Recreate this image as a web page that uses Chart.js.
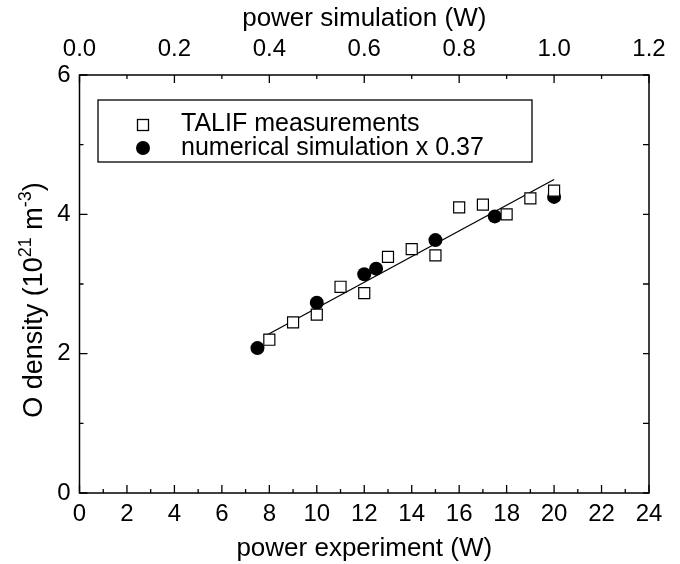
<!DOCTYPE html>
<html>
<head>
<meta charset="utf-8">
<script src="https://cdn.jsdelivr.net/npm/chart.js@4.4.1/dist/chart.umd.min.js"></script>
<style>
  html, body { margin: 0; padding: 0; background: #fff; }
  #cntr { width: 680px; height: 564px; }
</style>
</head>
<body>
<div id="cntr"><canvas id="grafica" width="680" height="564"></canvas></div>
<script>
// Datos
const potenciaTalif = [8, 9, 10, 11, 12, 13, 14, 15, 16, 17, 18, 19, 20];
const densidadTalif = [2.20, 2.45, 2.56, 2.96, 2.87, 3.39, 3.50, 3.41, 4.10, 4.14, 4.00, 4.23, 4.34];
const potenciaSim = [7.5, 10, 12, 12.5, 15, 17.5, 20];
const densidadSim = [2.08, 2.73, 3.14, 3.22, 3.63, 3.97, 4.25];
const ajusteX = [7.8, 20];
const ajusteY = [2.25, 4.50];

const fuente = '"Liberation Sans", Arial, Helvetica, sans-serif';
Chart.defaults.font.family = fuente;
Chart.defaults.color = '#000';

const puntos = (xs, ys) => xs.map((x, i) => ({ x: x, y: ys[i] }));

// Marco y marcas hacia dentro
const marco = {
  id: 'marco',
  beforeDatasetsDraw(chart) {
    const { ctx, chartArea: a, scales } = chart;
    ctx.save();
    ctx.strokeStyle = '#000';
    ctx.lineWidth = 1.5;
    ctx.strokeRect(a.left, a.top, a.right - a.left, a.bottom - a.top);
    ctx.lineWidth = 1.3;
    ctx.beginPath();
    for (let v = 0; v <= 24; v++) {
      const px = scales.x.getPixelForValue(v);
      const l = v % 2 === 0 ? 8 : 4;
      ctx.moveTo(px, a.bottom); ctx.lineTo(px, a.bottom - l);
    }
    for (let i = 0; i <= 12; i++) {
      const px = scales.x2.getPixelForValue(i / 10);
      const l = i % 2 === 0 ? 8 : 4;
      ctx.moveTo(px, a.top); ctx.lineTo(px, a.top + l);
    }
    for (let v = 0; v <= 6; v++) {
      const py = scales.y.getPixelForValue(v);
      const l = v % 2 === 0 ? 8 : 4;
      ctx.moveTo(a.left, py); ctx.lineTo(a.left + l, py);
      ctx.moveTo(a.right, py); ctx.lineTo(a.right - 6, py);
    }
    ctx.stroke();
    ctx.restore();
  }
};

// Titulo del eje y con superindices
const tituloY = {
  id: 'tituloY',
  afterDraw(chart) {
    const { ctx } = chart;
    const partes = [
      ['O density (10', 27, 0], ['21', 18, -11], [' m', 27, 0], ['-3', 18, -11], [')', 27, 0]
    ];
    ctx.save();
    ctx.translate(0, 300);
    ctx.rotate(-Math.PI / 2);
    ctx.fillStyle = '#000';
    ctx.textBaseline = 'alphabetic';
    let total = 0;
    partes.forEach(p => { ctx.font = p[1] + 'px ' + fuente; total += ctx.measureText(p[0]).width; });
    let x = -total / 2;
    partes.forEach(p => {
      ctx.font = p[1] + 'px ' + fuente;
      ctx.fillText(p[0], x, 42 + p[2]);
      x += ctx.measureText(p[0]).width;
    });
    ctx.restore();
  }
};

// Leyenda dentro del area
const leyenda = {
  id: 'leyenda',
  afterDraw(chart) {
    const { ctx } = chart;
    ctx.save();
    ctx.strokeStyle = '#000';
    ctx.lineWidth = 1.3;
    ctx.strokeRect(98, 100, 434, 62);
    ctx.fillStyle = '#fff';
    ctx.fillRect(137.5, 119.5, 11, 11);
    ctx.strokeRect(137.5, 119.5, 11, 11);
    ctx.fillStyle = '#000';
    ctx.beginPath();
    ctx.arc(143, 148, 7, 0, Math.PI * 2);
    ctx.fill();
    ctx.font = '25px ' + fuente;
    ctx.textBaseline = 'alphabetic';
    ctx.fillText('TALIF measurements', 181, 131);
    ctx.fillText('numerical simulation x 0.37', 181, 155);
    ctx.restore();
  }
};

new Chart(document.getElementById('grafica'), {
  type: 'scatter',
  data: {
    datasets: [
      {
        label: 'TALIF measurements',
        data: puntos(potenciaTalif, densidadTalif),
        pointStyle: 'rect',
        pointRadius: 7.8,
        pointBackgroundColor: '#fff',
        pointBorderColor: '#000',
        pointBorderWidth: 1.2,
        order: 1
      },
      {
        label: 'numerical simulation x 0.37',
        data: puntos(potenciaSim, densidadSim),
        pointStyle: 'circle',
        pointRadius: 7,
        pointBackgroundColor: '#000',
        pointBorderColor: '#000',
        pointBorderWidth: 0,
        order: 2
      },
      {
        label: 'ajuste',
        data: puntos(ajusteX, ajusteY),
        showLine: true,
        borderColor: '#000',
        borderWidth: 1.3,
        pointRadius: 0,
        order: 3
      }
    ]
  },
  options: {
    responsive: false,
    animation: false,
    devicePixelRatio: 1,
    layout: { padding: { left: 0, right: 31, top: 0, bottom: 0 } },
    plugins: {
      legend: { display: false },
      tooltip: { enabled: false }
    },
    scales: {
      x: {
        type: 'linear', position: 'bottom', min: 0, max: 24,
        ticks: { stepSize: 2, font: { size: 24 }, color: '#000', padding: 7, maxRotation: 0, autoSkip: false },
        grid: { display: false, drawTicks: false },
        border: { display: false },
        title: { display: true, text: 'power experiment (W)', font: { size: 26 }, color: '#000', padding: { top: 0, bottom: 0 } },
        afterFit: s => { s.height = 71; }
      },
      x2: {
        type: 'linear', position: 'top', min: 0, max: 1.2,
        ticks: { stepSize: 0.2, font: { size: 24 }, color: '#000', padding: 11, maxRotation: 0, autoSkip: false,
                 callback: v => v.toFixed(1) },
        grid: { display: false, drawTicks: false },
        border: { display: false },
        title: { display: true, text: 'power simulation (W)', font: { size: 26 }, color: '#000', padding: { top: 3, bottom: 0 } },
        afterFit: s => { s.height = 75; }
      },
      y: {
        type: 'linear', position: 'left', min: 0, max: 6,
        ticks: { stepSize: 2, font: { size: 24 }, color: '#000', padding: 9 },
        grid: { display: false, drawTicks: false },
        border: { display: false },
        afterFit: s => { s.width = 79.5; }
      }
    }
  },
  plugins: [marco, tituloY, leyenda]
});
</script>
</body>
</html>
